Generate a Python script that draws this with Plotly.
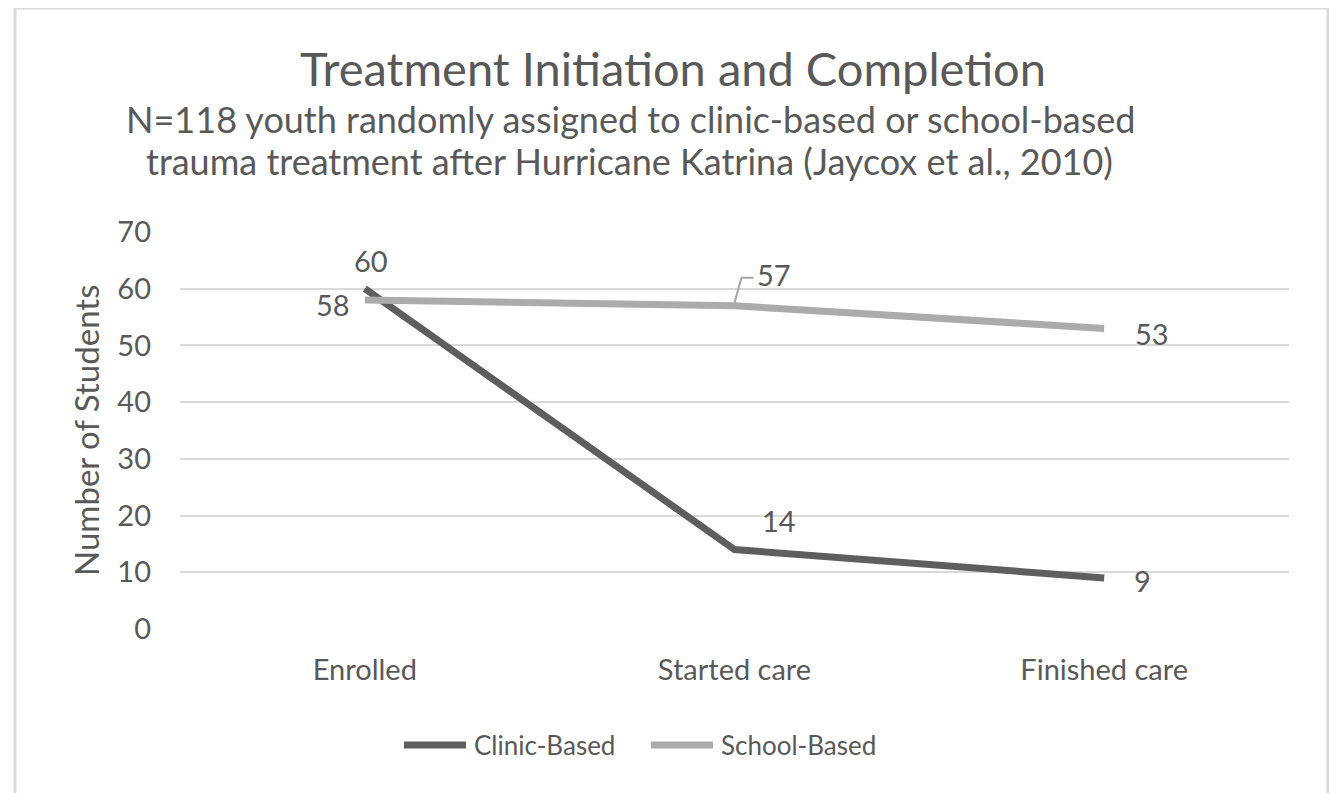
import plotly.graph_objects as go

categories = ["Enrolled", "Started care", "Finished care"]
series_names = ["Clinic-Based", "School-Based"]
clinic = [60, 14, 9]
school = [58, 57, 53]
y_ticks = [0, 10, 20, 30, 40, 50, 60, 70]

FONT = "Lato"
TXT = "#595959"
C_CLINIC = "#5e5e5e"
C_SCHOOL = "#ababab"

fig = go.Figure()
fig.add_trace(go.Scatter(x=categories, y=clinic, mode="lines", name=series_names[0],
                         line=dict(color=C_CLINIC, width=7), showlegend=False))
fig.add_trace(go.Scatter(x=categories, y=school, mode="lines", name=series_names[1],
                         line=dict(color=C_SCHOOL, width=7), showlegend=False))

# page offset of 8px (browser body margin) compensated
OFF = 8
W, H = 1337 - OFF, 793 - OFF
L, T = 180 - OFF, 232 - OFF
pw, ph = 1109, 397
R = W - L - pw
B = H - T - ph


def px(xp):
    # page x -> paper x
    return (xp - OFF - L) / pw


def py(yp):
    # page y -> paper y
    return (H - B - (yp - OFF)) / ph


ann = []
ann.append(dict(text="Treatment Initiation and Completion", x=px(673), y=py(68), xref="paper", yref="paper",
                showarrow=False, font=dict(size=47, color=TXT, family=FONT), xanchor="center", yanchor="middle"))
ann.append(dict(text="N=118 youth randomly assigned to clinic-based or school-based", x=px(630), y=py(119),
                xref="paper", yref="paper", showarrow=False, font=dict(size=36, color=TXT, family=FONT),
                xanchor="center", yanchor="middle"))
ann.append(dict(text="trauma treatment after Hurricane Katrina (Jaycox et al., 2010)", x=px(629), y=py(161),
                xref="paper", yref="paper", showarrow=False, font=dict(size=36, color=TXT, family=FONT),
                xanchor="center", yanchor="middle"))
ann.append(dict(text="Number of Students", x=px(86), y=py(430), xref="paper", yref="paper", textangle=-90,
                showarrow=False, font=dict(size=33, color=TXT, family=FONT), xanchor="center", yanchor="middle"))

# data labels
lab_font = dict(size=29, color=TXT, family=FONT)
offs_clinic = [(6, 28), (44, 29), (38, -3)]
offs_school = [(-32, -4), (0, 0), (48, -5)]
for i, (c, v) in enumerate(zip(categories, clinic)):
    dx, dy = offs_clinic[i]
    ann.append(dict(text=str(v), x=c, y=v, xref="x", yref="y", showarrow=False, font=lab_font,
                    xshift=dx, yshift=dy, xanchor="center", yanchor="middle"))
for i, (c, v) in enumerate(zip(categories, school)):
    dx, dy = offs_school[i]
    if i == 1:
        ann.append(dict(text=str(v), x=c, y=v, xref="x", yref="y", showarrow=False, font=lab_font,
                        xshift=20, yshift=31, xanchor="left", yanchor="middle"))
    else:
        ann.append(dict(text=str(v), x=c, y=v, xref="x", yref="y", showarrow=False, font=lab_font,
                        xshift=dx, yshift=dy, xanchor="center", yanchor="middle"))

shapes = []
# leader line for 57
shapes.append(dict(type="path", xref="x", yref="y", xsizemode="pixel", ysizemode="pixel",
                   xanchor=1, yanchor=school[1], path="M0,3 L7,28 L19,28",
                   line=dict(color="#a6a6a6", width=2)))
# outer border
shapes.append(dict(type="rect", xref="paper", yref="paper", x0=px(15), x1=px(1328), y0=py(820), y1=py(8),
                   line=dict(color="#d9d9d9", width=3), fillcolor="rgba(0,0,0,0)", layer="below"))

# custom legend (long line samples like the reference)
leg_y = py(745)
leg_items = [(series_names[0], C_CLINIC, 404, 466, 472), (series_names[1], C_SCHOOL, 651, 713, 719)]
for name, col, x0, x1, xt in leg_items:
    shapes.append(dict(type="line", xref="paper", yref="paper", x0=px(x0), x1=px(x1), y0=leg_y, y1=leg_y,
                       line=dict(color=col, width=7)))
    ann.append(dict(text=name, x=px(xt), y=leg_y, xref="paper", yref="paper", showarrow=False,
                    font=dict(size=26, color=TXT, family=FONT), xanchor="left", yanchor="middle"))

fig.update_layout(
    width=W, height=H,
    margin=dict(l=L, r=R, t=T, b=B),
    paper_bgcolor="white", plot_bgcolor="white",
    font=dict(family=FONT, color=TXT, size=29),
    showlegend=False,
    annotations=ann, shapes=shapes,
    xaxis=dict(type="category", categoryorder="array", categoryarray=categories, range=[-0.5, 2.5],
               showgrid=False, zeroline=False, showline=False, ticks="", ticklabelstandoff=21,
               tickfont=dict(size=29, color=TXT, family=FONT)),
    yaxis=dict(range=[0, 70], tickvals=y_ticks, showgrid=True, gridcolor="#d9d9d9", gridwidth=2,
               zeroline=False, showline=False, ticks="", ticklabelstandoff=28,
               tickfont=dict(size=29, color=TXT, family=FONT)),
)

fig.write_html("out.html")
